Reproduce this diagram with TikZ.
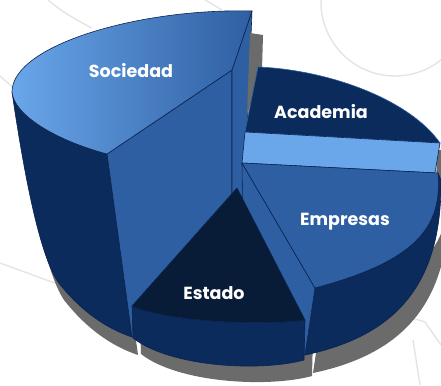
\documentclass[tikz,border=0pt]{standalone}
\usepackage{fontspec}
\setmainfont{Poppins}
\definecolor{navy}{HTML}{0A2B5B}
\definecolor{midblue}{HTML}{2E5FA2}
\definecolor{lightblue}{HTML}{6AA6EA}
\definecolor{deep}{HTML}{081C38}
\definecolor{shadowgray}{HTML}{6B6B6B}
\definecolor{edgeblue}{HTML}{0B2350}
\definecolor{deco}{HTML}{E4E4E4}
\tikzset{
  face/.style={draw=edgeblue, line width=0.6pt, line join=round},
  shade3d/.style={fill=shadowgray},
  decoline/.style={draw=deco, line width=1.4pt},
  lab/.style={text=white, font=\bfseries\fontsize{17.5}{17.5}\selectfont, anchor=base, inner sep=0pt}
}
\begin{document}
\begin{tikzpicture}[x=1pt,y=-1pt]
\useasboundingbox (0,0) rectangle (441,385);
% background decoration
\draw[decoline] (395,2) circle[radius=74];
\draw[decoline] (48,0) .. controls (60,10) and (72,18) .. (92,28);
\draw[decoline] (0,76) -- (16,90);
\draw[decoline] (205,0) -- (222,10);
\draw[decoline] (0,263) -- (60,285);
\draw[decoline] (412,318) -- (425,322) -- (441,345);
\draw[decoline] (413,340) -- (420,385);
% shadows
\path[shade3d, shift={(6,18)}] (12,92) .. controls (25,180) and (40,255) .. (58,282) .. controls (80,310) and (105,328) .. (132,337) -- (107,154) -- cycle;
\path[shade3d, shift={(8,16)}] (132,306) .. controls (170,322) and (260,326) .. (305,320) -- (304,360) .. controls (260,372) and (170,367) .. (133,338) -- cycle;
\path[shade3d, shift={(8,18)}] (315,288) .. controls (420,260) and (442,225) .. (438,173) -- (441,180) .. controls (442,280) and (400,335) .. (305,355) -- cycle;
\path[shade3d] (437,150) -- (441,150) -- (441,190) -- (436,190) -- cycle;
% Sociedad
\path[face, fill=navy] (12,92) .. controls (25,180) and (40,255) .. (58,282) .. controls (80,310) and (105,328) .. (132,337) -- (107,154) .. controls (55,140) and (14,115) .. (12,92) -- cycle;
\path[face, fill=midblue] (107,154) -- (232,70) -- (232,262) -- (132,337) -- cycle;
\path[face, fill=midblue] (232,70) -- (252,11) -- (243,240) -- (232,262) -- cycle;
\path[face, left color=lightblue, right color=midblue] (107,154) -- (232,70) -- (252,11) .. controls (140,8) and (12,45) .. (12,92) .. controls (14,115) and (55,140) .. (107,154) -- cycle;
% gray behind Academia
\path[shade3d] (250,33) -- (263,35) -- (262,70) -- (247,115) -- cycle;
% Academia
\path[face, fill=navy, draw=midblue] (258,67) .. controls (330,70) and (410,100) .. (440,143) -- (245,132) -- cycle;
\path[face, fill=lightblue] (245,132) -- (440,143) -- (435,173) -- (242,163) -- cycle;
% Empresas
\path[face, fill=navy] (315,288) .. controls (420,260) and (442,225) .. (438,173) -- (441,180) .. controls (442,280) and (400,335) .. (305,355) -- cycle;
\path[face, fill=midblue] (242,163) -- (315,288) -- (305,355) -- (243,250) -- cycle;
\path[face, fill=midblue] (242,163) -- (438,173) .. controls (442,225) and (420,260) .. (315,288) -- cycle;
% Estado
\path[face, fill=navy] (132,306) .. controls (170,322) and (260,326) .. (305,320) -- (304,360) .. controls (260,372) and (170,367) .. (133,338) -- cycle;
\path[face, fill=deep] (237,188) -- (132,306) .. controls (170,322) and (260,326) .. (305,320) -- cycle;
% labels
\node[lab] (soc) at (131,78) {Sociedad};
\node[lab] (aca) at (321,118) {Academia};
\node[lab] (emp) at (345,225) {Empresas};
\node[lab] (est) at (214,299) {Estado};
\end{tikzpicture}
\end{document}
